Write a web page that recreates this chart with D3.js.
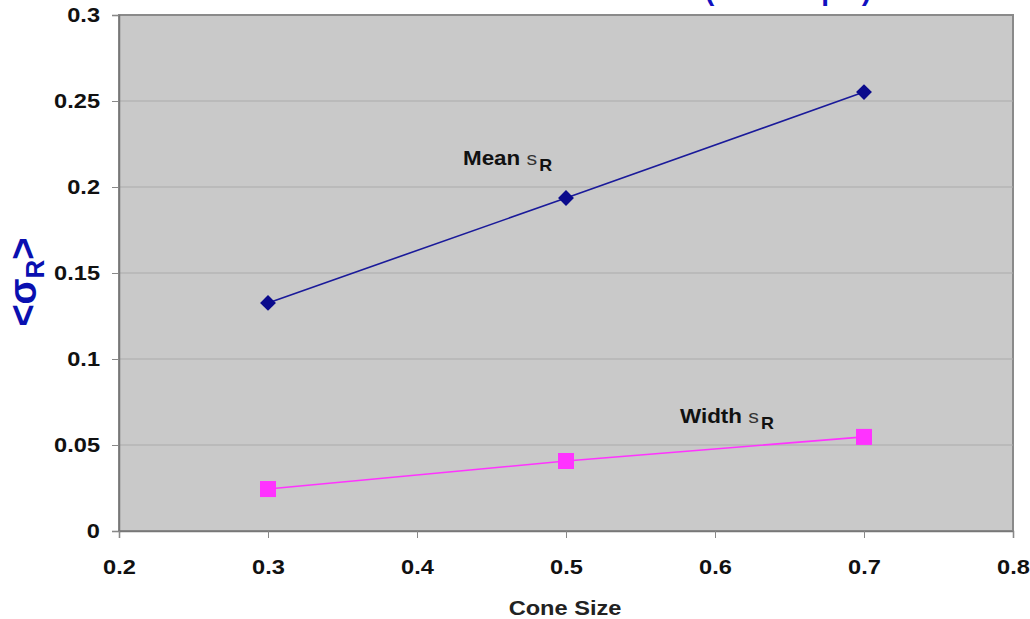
<!DOCTYPE html>
<html>
<head>
<meta charset="utf-8">
<script src="https://cdn.jsdelivr.net/npm/d3@7"></script>
<style>
  body { margin: 0; background: #fff; }
  svg { display: block; }
  text { font-family: "Liberation Sans", Arial, sans-serif; }
</style>
</head>
<body>
<svg id="chart" width="1030" height="619"></svg>
<script>
// cone sizes and the two series
const coneSizes = [0.3, 0.5, 0.7]
const meanSigma = [0.1326, 0.1936, 0.2552]
const widthSigma = [0.0244, 0.0407, 0.0547]
const xTicks = [0.2, 0.3, 0.4, 0.5, 0.6, 0.7, 0.8]
const yTicks = [0, 0.05, 0.1, 0.15, 0.2, 0.25, 0.3]

const svg = d3.select("#chart")
const plotLeft = 119, plotRight = 1013, plotTop = 15, plotBottom = 531
const stretch = 1.18   // the source picture is a bit wider than tall

const x = d3.scaleLinear().domain([0.2, 0.8]).range([plotLeft, plotRight])
const y = d3.scaleLinear().domain([0, 0.3]).range([plotBottom, plotTop])

// title, almost all of it cut off by the top edge
svg.append("text")
    .attr("x", 705).attr("y", 0)
    .attr("text-anchor", "end")
    .attr("fill", "#1010c0").attr("font-weight", "bold").attr("font-size", 28)
    .text("Mean and Width of σR vs Cone Size ")
svg.append("text")
    .attr("x", 705).attr("y", 0)
    .attr("textLength", 166)
    .attr("fill", "#1010c0").attr("font-weight", "bold").attr("font-size", 28)
    .text("(Jet Sample)")

// plot background
svg.append("rect")
    .attr("x", plotLeft).attr("y", plotTop)
    .attr("width", plotRight - plotLeft).attr("height", plotBottom - plotTop)
    .attr("fill", "#c9c9c9")
    .attr("stroke", "#8a8a8a")
    .attr("stroke-width", 2)

// grid lines
svg.append("g")
    .selectAll("line")
    .data(yTicks.filter(d => d > 0 && d < 0.3))
    .enter().append("line")
    .attr("x1", plotLeft).attr("x2", plotRight)
    .attr("y1", d => y(d)).attr("y2", d => y(d))
    .attr("stroke", "#ababab")
    .attr("stroke-width", 1.2)

// axes
const yAxis = svg.append("g")
    .attr("transform", `translate(${plotLeft},0)`)
    .call(d3.axisLeft(y).tickValues(yTicks).tickSize(7)
        .tickFormat(d => String(+d.toFixed(2))))
const xAxis = svg.append("g")
    .attr("transform", `translate(0,${plotBottom})`)
    .call(d3.axisBottom(x).tickValues(xTicks).tickSize(7).tickPadding(22)
        .tickFormat(d => String(+d.toFixed(1))))

;[yAxis, xAxis].forEach(a => {
    a.select(".domain").attr("stroke", "#777").attr("stroke-width", 1.5)
    a.selectAll(".tick line").attr("stroke", "#888")
    a.selectAll(".tick text")
        .attr("font-family", "'Liberation Sans', Arial, sans-serif")
        .attr("font-size", 20)
        .attr("font-weight", "bold")
        .attr("fill", "#111")
        .attr("transform", `scale(${stretch},1)`)
})
yAxis.selectAll(".tick text").attr("x", -19 / stretch)

// series lines
const line = d3.line().x(d => x(d[0])).y(d => y(d[1]))
const meanPts = coneSizes.map((c, i) => [c, meanSigma[i]])
const widthPts = coneSizes.map((c, i) => [c, widthSigma[i]])

svg.append("path").datum(meanPts)
    .attr("d", line).attr("fill", "none")
    .attr("stroke", "#1a1a9a").attr("stroke-width", 1.6)
svg.append("path").datum(widthPts)
    .attr("d", line).attr("fill", "none")
    .attr("stroke", "#ff33ff").attr("stroke-width", 1.6)

// markers
svg.append("g").selectAll("path")
    .data(meanPts).enter().append("path")
    .attr("d", d3.symbol().type(d3.symbolDiamond2).size(160))
    .attr("transform", d => `translate(${x(d[0])},${y(d[1])})`)
    .attr("fill", "#0a0a8c")
svg.append("g").selectAll("rect")
    .data(widthPts).enter().append("rect")
    .attr("x", d => x(d[0]) - 8).attr("y", d => y(d[1]) - 8)
    .attr("width", 16).attr("height", 16)
    .attr("fill", "#ff33ff")

// series annotations
function note(px, py, word) {
    const t = svg.append("text")
        .attr("transform", `translate(${px},${py}) scale(1.12,1)`)
        .attr("font-size", 20).attr("fill", "#111")
    t.append("tspan").attr("font-weight", "bold").text(word + " ")
    t.append("tspan").attr("font-size", 19).attr("fill", "#333").text("s")
    t.append("tspan").attr("font-weight", "bold").attr("font-size", 16)
        .attr("dx", 2).attr("dy", 6).text("R")
}
note(463, 165, "Mean")
note(680, 423, "Width")

// axis titles
svg.append("text")
    .attr("transform", `translate(565,615) scale(${stretch},1)`)
    .attr("text-anchor", "middle")
    .attr("font-size", 20).attr("font-weight", "bold").attr("fill", "#222")
    .text("Cone Size")

const yt = svg.append("text")
    .attr("transform", "translate(36,282) rotate(-90)")
    .attr("text-anchor", "middle")
    .attr("font-size", 38).attr("font-weight", "bold").attr("fill", "#0a10b0")
yt.append("tspan").text("<σ")
yt.append("tspan").attr("font-size", 26).attr("dy", 8).text("R")
yt.append("tspan").attr("dy", -8).text(">")
</script>
</body>
</html>
